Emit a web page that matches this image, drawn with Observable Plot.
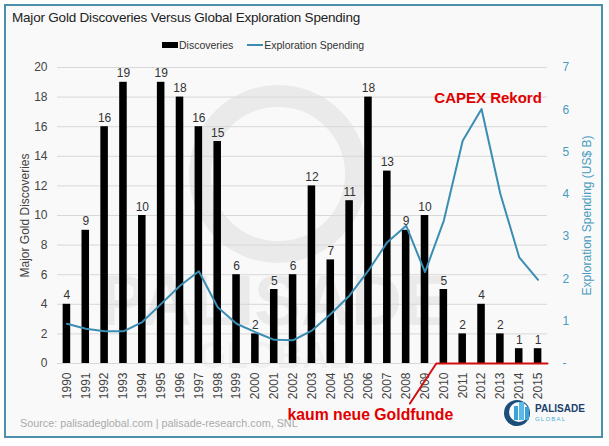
<!DOCTYPE html>
<html><head><meta charset="utf-8">
<script src="https://cdn.jsdelivr.net/npm/d3@7"></script>
<script src="https://cdn.jsdelivr.net/npm/@observablehq/plot@0.6"></script>
<style>
body{margin:0;background:#fff;font-family:"Liberation Sans",Arial,sans-serif;}
#wrap{position:relative;width:609px;height:446px;overflow:hidden;background:#fff}
#frame{position:absolute;left:4px;top:4px;width:599px;height:434px;border:2px solid #4a90aa;background:#f9f9f9;box-sizing:border-box}
#title{position:absolute;left:12px;top:10px;font-size:13.5px;letter-spacing:-0.2px;color:#222;white-space:nowrap}
#legend{position:absolute;top:39px;left:162px;font-size:10.5px;color:#333;display:flex;align-items:center;white-space:nowrap}
#legend .sw{display:inline-block;width:16px;height:6px;background:#000;margin-right:1px}
#legend .ln{display:inline-block;width:16px;height:2px;background:#3a8db3;margin-left:14px;margin-right:1px}
#source{position:absolute;left:20px;top:417px;font-size:10.8px;color:#aaa;white-space:nowrap}
#logo{position:absolute;left:503px;top:397px;width:90px;height:32px}
#chart{position:absolute;left:0;top:0}
</style></head>
<body>
<div id="wrap">
  <div id="frame"></div>
  <div id="chart"></div>
  <div id="title">Major Gold Discoveries Versus Global Exploration Spending</div>
  <div id="legend"><span class="sw"></span>Discoveries<span class="ln"></span>Exploration Spending</div>
  <div id="source">Source: palisadeglobal.com | palisade-research.com, SNL</div>
  <svg id="logo" viewBox="0 0 90 32">
    <circle cx="14" cy="16" r="13" fill="#1b4f7a"/>
    <circle cx="16" cy="15" r="10" fill="#f9f9f9"/>
    <rect x="11" y="9" width="4" height="14" fill="#3aa3d8"/>
    <rect x="16" y="5" width="5" height="18" fill="#5bbbe6"/>
    <rect x="22" y="10" width="4" height="13" fill="#3aa3d8"/>
    <text x="32" y="15" font-size="10" font-weight="bold" fill="#1b3f6a" font-family="Liberation Sans">PALISADE</text>
    <text x="32" y="24" font-size="6" fill="#49b0d8" letter-spacing="1.2" font-family="Liberation Sans">GLOBAL</text>
  </svg>
</div>
<script>
const years = [1990,1991,1992,1993,1994,1995,1996,1997,1998,1999,2000,2001,2002,2003,2004,2005,2006,2007,2008,2009,2010,2011,2012,2013,2014,2015];
const discoveries = [4,9,16,19,10,19,18,16,15,6,2,5,6,12,7,11,18,13,9,10,5,2,4,2,1,1];
const spending = [0.94,0.82,0.76,0.76,0.98,1.41,1.84,2.18,1.33,0.94,0.74,0.56,0.55,0.78,1.17,1.61,2.2,2.87,3.26,2.16,3.38,5.27,6.02,4.01,2.51,1.98];
const leftTicks = [0,2,4,6,8,10,12,14,16,18,20];
const rightTicks = [0,1,2,3,4,5,6,7];
const annotLineX = [2008.2, 2009.6, 2015.5];
const annotLineY = [-2.7, 0, 0];

const ratio = 20 / 7;
const data = years.map((y, i) => ({year: y, disc: discoveries[i], spend: spending[i]}));
const annot = annotLineX.map((x, i) => ({x, y: annotLineY[i]}));

const chart = Plot.plot({
  width: 609, height: 446,
  marginTop: 67, marginBottom: 83, marginLeft: 57, marginRight: 62,
  style: {background: "transparent", fontFamily: "Liberation Sans, Arial, sans-serif", fontSize: "12px", color: "#444", overflow: "visible"},
  x: {type: "linear", domain: [1989.5, 2015.5]},
  y: {domain: [0, 20]},
  marks: [
    Plot.text(["PALISADE"], {x: 2001, y: 4.1, text: d => d, fontSize: 70, fill: "#000", fillOpacity: 0.06, fontWeight: "bold"}),
    Plot.text(["GLOBAL"], {x: 2001, y: 0.5, text: d => d, fontSize: 36, fill: "#000", fillOpacity: 0.045, fontWeight: "bold"}),
    Plot.dot([{x: 2001.2, y: 12.8}], {x: "x", y: "y", r: 78, stroke: "#000", strokeOpacity: 0.06, strokeWidth: 22, fill: "none"}),
    Plot.gridY(leftTicks, {stroke: "#d8d8d8", strokeOpacity: 1}),
    Plot.rectY(data, {x1: d => d.year - 0.2, x2: d => d.year + 0.2, y: "disc", fill: "#000"}),
    Plot.text(data, {x: "year", y: "disc", text: "disc", dy: -5, lineAnchor: "bottom", fill: "#333", fontSize: 12}),
    Plot.line(data, {x: "year", y: d => d.spend * ratio, stroke: "#3a8db3", strokeWidth: 2}),
    Plot.axisY(leftTicks, {anchor: "left", tickSize: 0, tickPadding: 10, fontSize: 12, fill: "#444",
      label: "Major Gold Discoveries", labelAnchor: "center", labelArrow: "none", labelOffset: 37}),
    Plot.axisY(rightTicks.map(v => v * ratio), {anchor: "right", tickSize: 0, tickPadding: 15, fontSize: 12, fill: "#4a9bbd",
      tickFormat: d => { const v = Math.round(d / ratio); return v === 0 ? "-" : String(v); },
      label: "Exploration Spending (US$ B)", labelAnchor: "center", labelArrow: "none", labelOffset: 43}),
    Plot.axisX(years, {tickSize: 0, tickPadding: 9, tickRotate: -90, tickFormat: d => String(d), fontSize: 12, fill: "#444", label: null}),
    Plot.line(annot, {x: "x", y: "y", stroke: "#d01010", strokeWidth: 2}),
    Plot.text(["CAPEX Rekord"], {x: 2015.2, y: 17.6, text: d => d, textAnchor: "end", lineAnchor: "bottom", fill: "#e00000", fontWeight: "bold", fontSize: 15}),
    Plot.text(["kaum neue Goldfunde"], {x: 2006.1, y: -3.45, text: d => d, fill: "#e00000", fontWeight: "bold", fontSize: 15.8})
  ]
});
document.getElementById("chart").appendChild(chart);
chart.querySelectorAll("g[aria-label='y-axis label'] text").forEach(t => {
  if (t.textContent.startsWith("Exploration")) t.setAttribute("fill", "#4a9bbd");
});
</script>
</body></html>
